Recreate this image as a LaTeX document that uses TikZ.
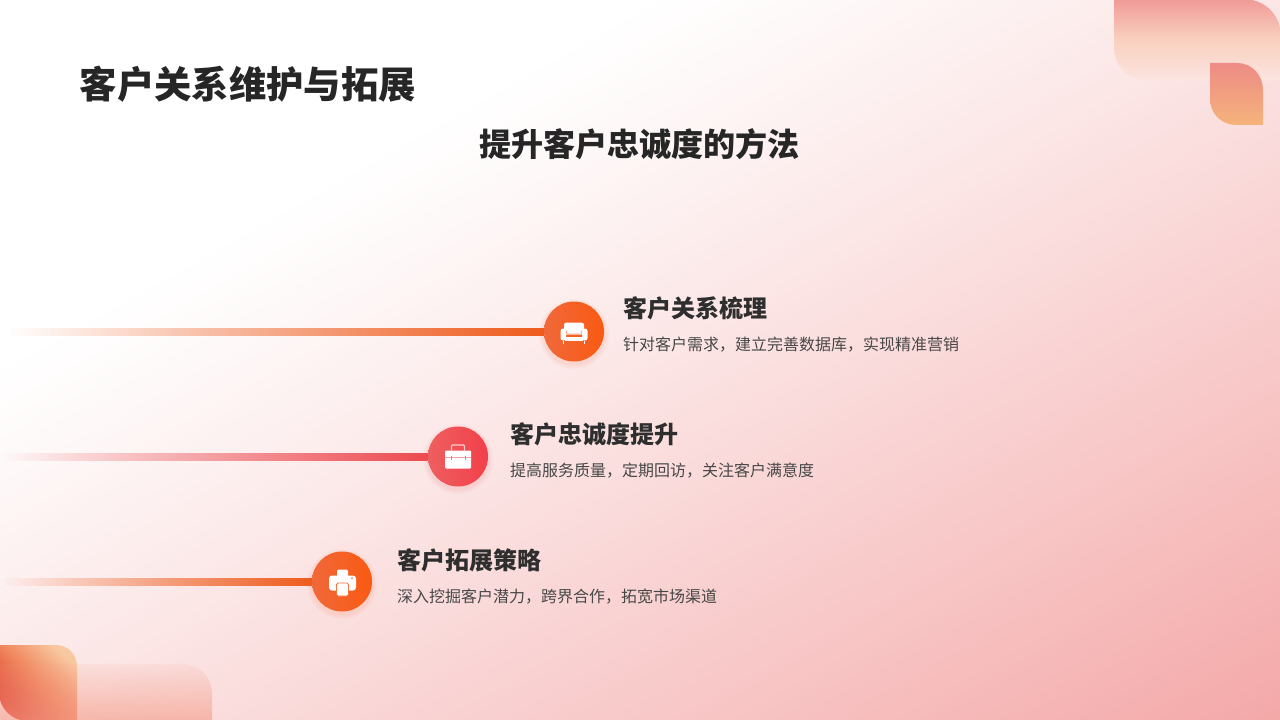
\documentclass[tikz,border=0pt]{standalone}
\usepackage{fontspec}
\setmainfont{Noto Sans CJK SC}
\usetikzlibrary{fadings}
\pgfdeclarefunctionalshading{pagebg}{\pgfpointorigin}{\pgfpoint{1284bp}{724bp}}{}{
  720 exch sub 720 div exch 1280 div add 2 div
  0.25 sub 0.75 div dup 0 lt {pop 0} if 1.12 exp
  dup 0.043 mul 1 exch sub exch dup 0.341 mul 1 exch sub exch 0.341 mul 1 exch sub
}
\tikzfading[name=barfade, left color=transparent!100, right color=transparent!0]
\tikzfading[name=softup, bottom color=transparent!35, top color=transparent!90]
\definecolor{orangeA}{HTML}{F0683A}
\definecolor{orangeB}{HTML}{FA5A12}
\definecolor{orangeBar}{HTML}{EE5A1A}
\definecolor{redA}{HTML}{EE5F60}
\definecolor{redB}{HTML}{F2404A}
\definecolor{redBar}{HTML}{EC4A50}
\definecolor{trTop}{HTML}{F09A96}
\definecolor{trMid}{HTML}{F9D0BF}
\definecolor{trBot}{HTML}{FCE4E0}
\definecolor{leafTop}{HTML}{EE8B86}
\definecolor{leafBot}{HTML}{F5B37B}
\definecolor{blA}{HTML}{DD3C2C}
\definecolor{blM}{HTML}{F0855C}
\definecolor{blB}{HTML}{F8C8A0}
\definecolor{blC}{HTML}{F4A08C}
\tikzset{
  titletext/.style={inner sep=0pt,anchor=west,text=black!85,font=\fontsize{37.5}{40}\selectfont\bfseries},
  subtext/.style={inner sep=0pt,anchor=center,text=black!85,font=\fontsize{32.2}{36}\selectfont\bfseries},
  headtext/.style={inner sep=0pt,anchor=west,text=black!82,font=\fontsize{24.1}{28}\selectfont\bfseries},
  desctext/.style={inner sep=0pt,anchor=west,text=black!72,font=\fontsize{16.05}{20}\selectfont},
  badge/.style={circle,inner sep=0pt,minimum size=60bp,shading angle=45},
  orangebadge/.style={badge,left color=orangeA,right color=orangeB},
  redbadge/.style={badge,left color=redA,right color=redB},
  barline/.style={line width=8bp,path fading=barfade},
  icon/.style={fill=white,draw=none},
}
\newcommand{\halo}[3]{%
  \foreach \rr in {35,34,33,32,31}{\fill[#3,opacity=0.025] (#1,#2+2.5) circle[radius=\rr bp];}%
}
\begin{document}
\begin{tikzpicture}[x=1bp,y=-1bp]
\useasboundingbox (0,0) rectangle (1280,720);
\node[inner sep=0pt,anchor=north west] (page) at (-2,-2) {\pgfuseshading{pagebg}};

% corner shapes, top right
\shade[top color=trTop,bottom color=trBot,middle color=trMid]
  (1114,-1) -- (1243,-1) .. controls (1264,-1) and (1281,14) .. (1281,37) -- (1281,80) -- (1147,80) .. controls (1128,80) and (1114,66) .. (1114,47) -- cycle;
\shade[top color=leafTop,bottom color=leafBot]
  (1210,63) -- (1237,63) .. controls (1252,63) and (1263,75) .. (1263,90) -- (1263,125) -- (1236,125) .. controls (1221,125) and (1210,113) .. (1210,99) -- cycle;

% corner shapes, bottom left
\shade[left color=blA,right color=blB,middle color=blM,shading angle=135]
  (-1,645) -- (55,645) .. controls (68,645) and (77,654) .. (77,667) -- (77,721) -- (27,721) .. controls (12,721) and (-1,708) .. (-1,693) -- cycle;
\fill[blC,path fading=softup]
  (-1,664) -- (182,664) .. controls (199,664) and (212,677) .. (212,694) -- (212,721) -- (-1,721) -- cycle;

% texts
\node[titletext] (title) at (79.5,84) {客户关系维护与拓展};
\node[subtext] (subtitle) at (639.5,144) {提升客户忠诚度的方法};

% halos
\halo{574}{331.5}{orangeB}
\halo{458}{456.5}{redB}
\halo{342}{581.5}{orangeB}

% badges and connectors
\coordinate (start1) at (10,331.5);
\coordinate (start2) at (5,456.5);
\coordinate (start3) at (5,581.5);
\node[orangebadge] (b1) at (574,331.5) {};
\node[redbadge] (b2) at (458,456.5) {};
\node[orangebadge] (b3) at (342,581.5) {};
\draw[barline,draw=orangeBar] (start1) -- (b1.west);
\draw[barline,draw=redBar] (start2) -- (b2.west);
\draw[barline,draw=orangeBar] (start3) -- (b3.west);

% sofa
\begin{scope}[shift={(574,331.5)}]
  \fill[icon,rounded corners=2.5bp] (-10,-9) rectangle (10,3);
  \fill[icon,rounded corners=2.5bp] (-13.5,-3) rectangle (-8,9);
  \fill[icon,rounded corners=2.5bp] (13.5,-3) rectangle (8,9);
  \fill[icon] (-9,5) rectangle (9,9);
  \fill[icon] (-11,9) rectangle (-10,12);
  \fill[icon] (11,9) rectangle (10,12);
  \draw[orangeB!60!white,line width=0.7bp] (-8,-1) -- (-7,2.5) -- (7,2.5) -- (8,-1);
\end{scope}

% briefcase
\begin{scope}[shift={(458,456.5)}]
  \draw[white!80!red,line width=1.1bp,rounded corners=1bp] (-6.5,-6) -- (-6.5,-11.5) -- (6.5,-11.5) -- (6.5,-6);
  \fill[icon,rounded corners=1bp] (-13,-6) rectangle (13,12);
  \draw[redB!50!white,line width=0.6bp] (-13,1) -- (13,1);
  \fill[redB!70!white] (-7.5,-0.5) rectangle (-6.5,3.5);
  \fill[redB!70!white] (6.5,-0.5) rectangle (7.5,3.5);
\end{scope}

% printer
\begin{scope}[shift={(342,581.5)}]
  \fill[icon,rounded corners=2bp] (-5,-12) rectangle (6,-3);
  \fill[icon,rounded corners=3bp] (-13,-6) rectangle (14,9);
  \draw[orangeB!85!white,line width=0.9bp,fill=white,rounded corners=1.5bp] (-5.5,1.5) rectangle (6.5,14.5);
  \fill[orangeB!85!white] (10,-3.3) circle[radius=1bp];
\end{scope}

% item labels
\node[headtext] (h1) at (623,308) {客户关系梳理};
\node[desctext] (d1) at (623,345) {针对客户需求，建立完善数据库，实现精准营销};
\node[headtext] (h2) at (510,434) {客户忠诚度提升};
\node[desctext] (d2) at (510,471) {提高服务质量，定期回访，关注客户满意度};
\node[headtext] (h3) at (397,560) {客户拓展策略};
\node[desctext] (d3) at (397,597) {深入挖掘客户潜力，跨界合作，拓宽市场渠道};
\end{tikzpicture}
\end{document}
